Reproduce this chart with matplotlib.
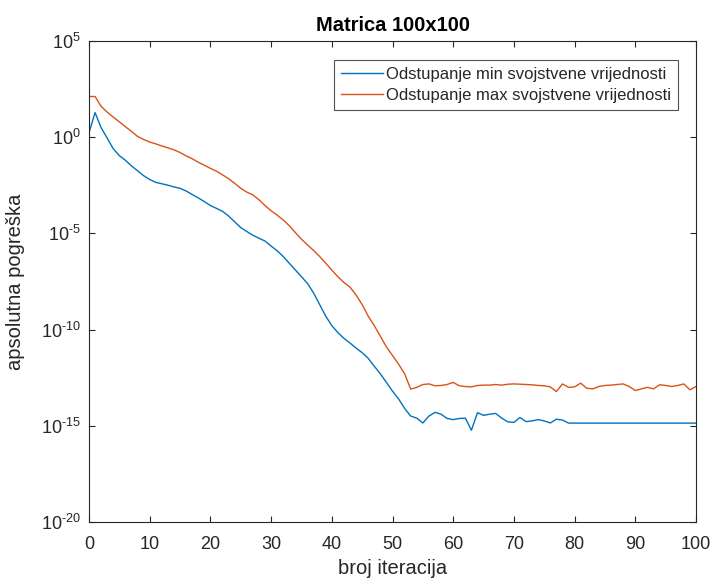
import matplotlib
matplotlib.use("Agg")
import matplotlib.pyplot as plt
from matplotlib.ticker import FixedLocator, NullLocator

plt.rcParams['font.family'] = ['Liberation Sans', 'DejaVu Sans']
plt.rcParams['mathtext.fontset'] = 'custom'
plt.rcParams['mathtext.rm'] = 'Liberation Sans'
plt.rcParams['mathtext.it'] = 'Liberation Sans'
plt.rcParams['mathtext.bf'] = 'Liberation Sans:bold'

title = "Matrica 100x100"
xlabel = "broj iteracija"
ylabel = "apsolutna pogreška"
labels = ["Odstupanje min svojstvene vrijednosti",
          "Odstupanje max svojstvene vrijednosti"]

iterations = list(range(0, 101))

err_min = [
    1.7e0, 1.9e1, 3.1e0, 9e-1, 2.5e-1, 1.1e-1, 6.3e-2, 3.2e-2, 1.8e-2, 1e-2,
    6.3e-3, 4.5e-3, 3.8e-3, 3.2e-3, 2.6e-3, 2.2e-3, 1.6e-3, 1.05e-3, 7e-4, 4.5e-4,
    2.8e-4, 2e-4, 1.4e-4, 8e-5, 4e-5, 2e-5, 1.25e-5, 8e-6, 5.6e-6, 4e-6,
    2.2e-6, 1.25e-6, 6.3e-7, 2.8e-7, 1.25e-7, 5.6e-8, 2.5e-8, 8e-9, 2e-9, 5e-10,
    1.6e-10, 7e-11, 3.5e-11, 2e-11, 1.1e-11, 6.3e-12, 3.2e-12, 1.25e-12, 5e-13, 1.8e-13,
    6.3e-14, 2.5e-14, 8e-15, 3.2e-15, 2.5e-15, 1.4e-15, 3.2e-15, 5e-15, 4e-15, 2.4e-15,
    2.1e-15, 2.4e-15, 2.5e-15, 5.9e-16, 4.8e-15, 3.5e-15, 4e-15, 4.4e-15, 2.5e-15, 1.6e-15,
    1.5e-15, 2.7e-15, 1.65e-15, 1.8e-15, 2.1e-15, 1.8e-15, 1.4e-15, 2.2e-15, 2e-15, 1.38e-15,
    1.38e-15, 1.38e-15, 1.38e-15, 1.38e-15, 1.38e-15, 1.38e-15, 1.38e-15, 1.38e-15, 1.38e-15, 1.38e-15,
    1.38e-15, 1.38e-15, 1.38e-15, 1.38e-15, 1.38e-15, 1.38e-15, 1.38e-15, 1.38e-15, 1.38e-15, 1.38e-15,
    1.38e-15,
]

err_max = [
    1.3e2, 1.3e2, 4e1, 2e1, 1.1e1, 6.3e0, 3.5e0, 2e0, 1.1e0, 7.6e-1,
    5.6e-1, 4.5e-1, 3.5e-1, 2.8e-1, 2.2e-1, 1.6e-1, 1.07e-1, 7.6e-2, 5e-2, 3.5e-2,
    2.4e-2, 1.7e-2, 1.1e-2, 7e-3, 4e-3, 2.2e-3, 1.4e-3, 1e-3, 5.6e-4, 2.8e-4,
    1.5e-4, 8.9e-5, 5e-5, 2.5e-5, 1.1e-5, 5e-6, 2.5e-6, 1.3e-6, 6.3e-7, 2.8e-7,
    1.25e-7, 5.6e-8, 2.8e-8, 1.6e-8, 6.3e-9, 2e-9, 5e-10, 1.6e-10, 4.5e-11, 1.25e-11,
    4.5e-12, 1.6e-12, 5e-13, 8e-14, 1e-13, 1.4e-13, 1.5e-13, 1.2e-13, 1.25e-13, 1.4e-13,
    1.8e-13, 1.2e-13, 1.1e-13, 1.05e-13, 1.25e-13, 1.3e-13, 1.3e-13, 1.4e-13, 1.3e-13, 1.45e-13,
    1.5e-13, 1.45e-13, 1.4e-13, 1.35e-13, 1.25e-13, 1.2e-13, 1.05e-13, 6e-14, 1.5e-13, 1e-13,
    1.05e-13, 1.65e-13, 8.9e-14, 8.3e-14, 1.1e-13, 1.25e-13, 1.3e-13, 1.4e-13, 1.5e-13, 1.1e-13,
    6.8e-14, 8.3e-14, 1e-13, 8.3e-14, 1.35e-13, 1.25e-13, 1.1e-13, 1.25e-13, 1.5e-13, 7.4e-14,
    1.1e-13,
]

xticks = [0, 10, 20, 30, 40, 50, 60, 70, 80, 90, 100]
yticks = [1e-20, 1e-15, 1e-10, 1e-5, 1e0, 1e5]
ytick_labels = [r"$10^{\text{-20}}$", r"$10^{\text{-15}}$", r"$10^{\text{-10}}$",
                r"$10^{\text{-5}}$", r"$10^{0}$", r"$10^{5}$"]

axis_col = "#262626"

fig = plt.figure(figsize=(7.15, 5.84), dpi=100)
ax = fig.add_axes([89/715, 1 - 522/584, (696 - 89)/715, (522 - 41)/584])

ax.plot(iterations, err_min, color="#0072BD", lw=1.0, label=labels[0])
ax.plot(iterations, err_max, color="#D95319", lw=1.0, label=labels[1])

ax.set_yscale("log")
ax.set_xlim(0, 100)
ax.set_ylim(1e-20, 1e5)
ax.xaxis.set_major_locator(FixedLocator(xticks))
ax.yaxis.set_major_locator(FixedLocator(yticks))
ax.yaxis.set_minor_locator(NullLocator())
ax.set_yticklabels(ytick_labels)

ax.tick_params(direction="in", length=4, width=0.8, colors=axis_col,
               labelsize=13, top=True, right=True)
ax.tick_params(axis="x", pad=10)
ax.tick_params(axis="y", pad=6)
ax.tick_params(axis="y", which="minor", length=0)
for s in ax.spines.values():
    s.set_color(axis_col)
    s.set_linewidth(0.8)

ax.set_title(title, fontsize=14.5, fontweight="bold", color="black", pad=7)
ax.set_xlabel(xlabel, fontsize=14.5, color=axis_col)
ax.set_ylabel(ylabel, fontsize=14.5, color=axis_col)
ax.xaxis.set_label_coords(0.5, -0.077)
ax.yaxis.set_label_coords(-0.105, 0.5)

leg = ax.legend(loc="upper right", bbox_to_anchor=(0.970, 0.9605), fontsize=12,
                frameon=True, fancybox=False, edgecolor=axis_col,
                handlelength=2.5, handletextpad=0.2, borderpad=0.4,
                labelspacing=0.4, borderaxespad=0)
leg.get_frame().set_linewidth(0.8)
for t in leg.get_texts():
    t.set_color(axis_col)

fig.savefig("out.png", dpi=100, facecolor="white")
